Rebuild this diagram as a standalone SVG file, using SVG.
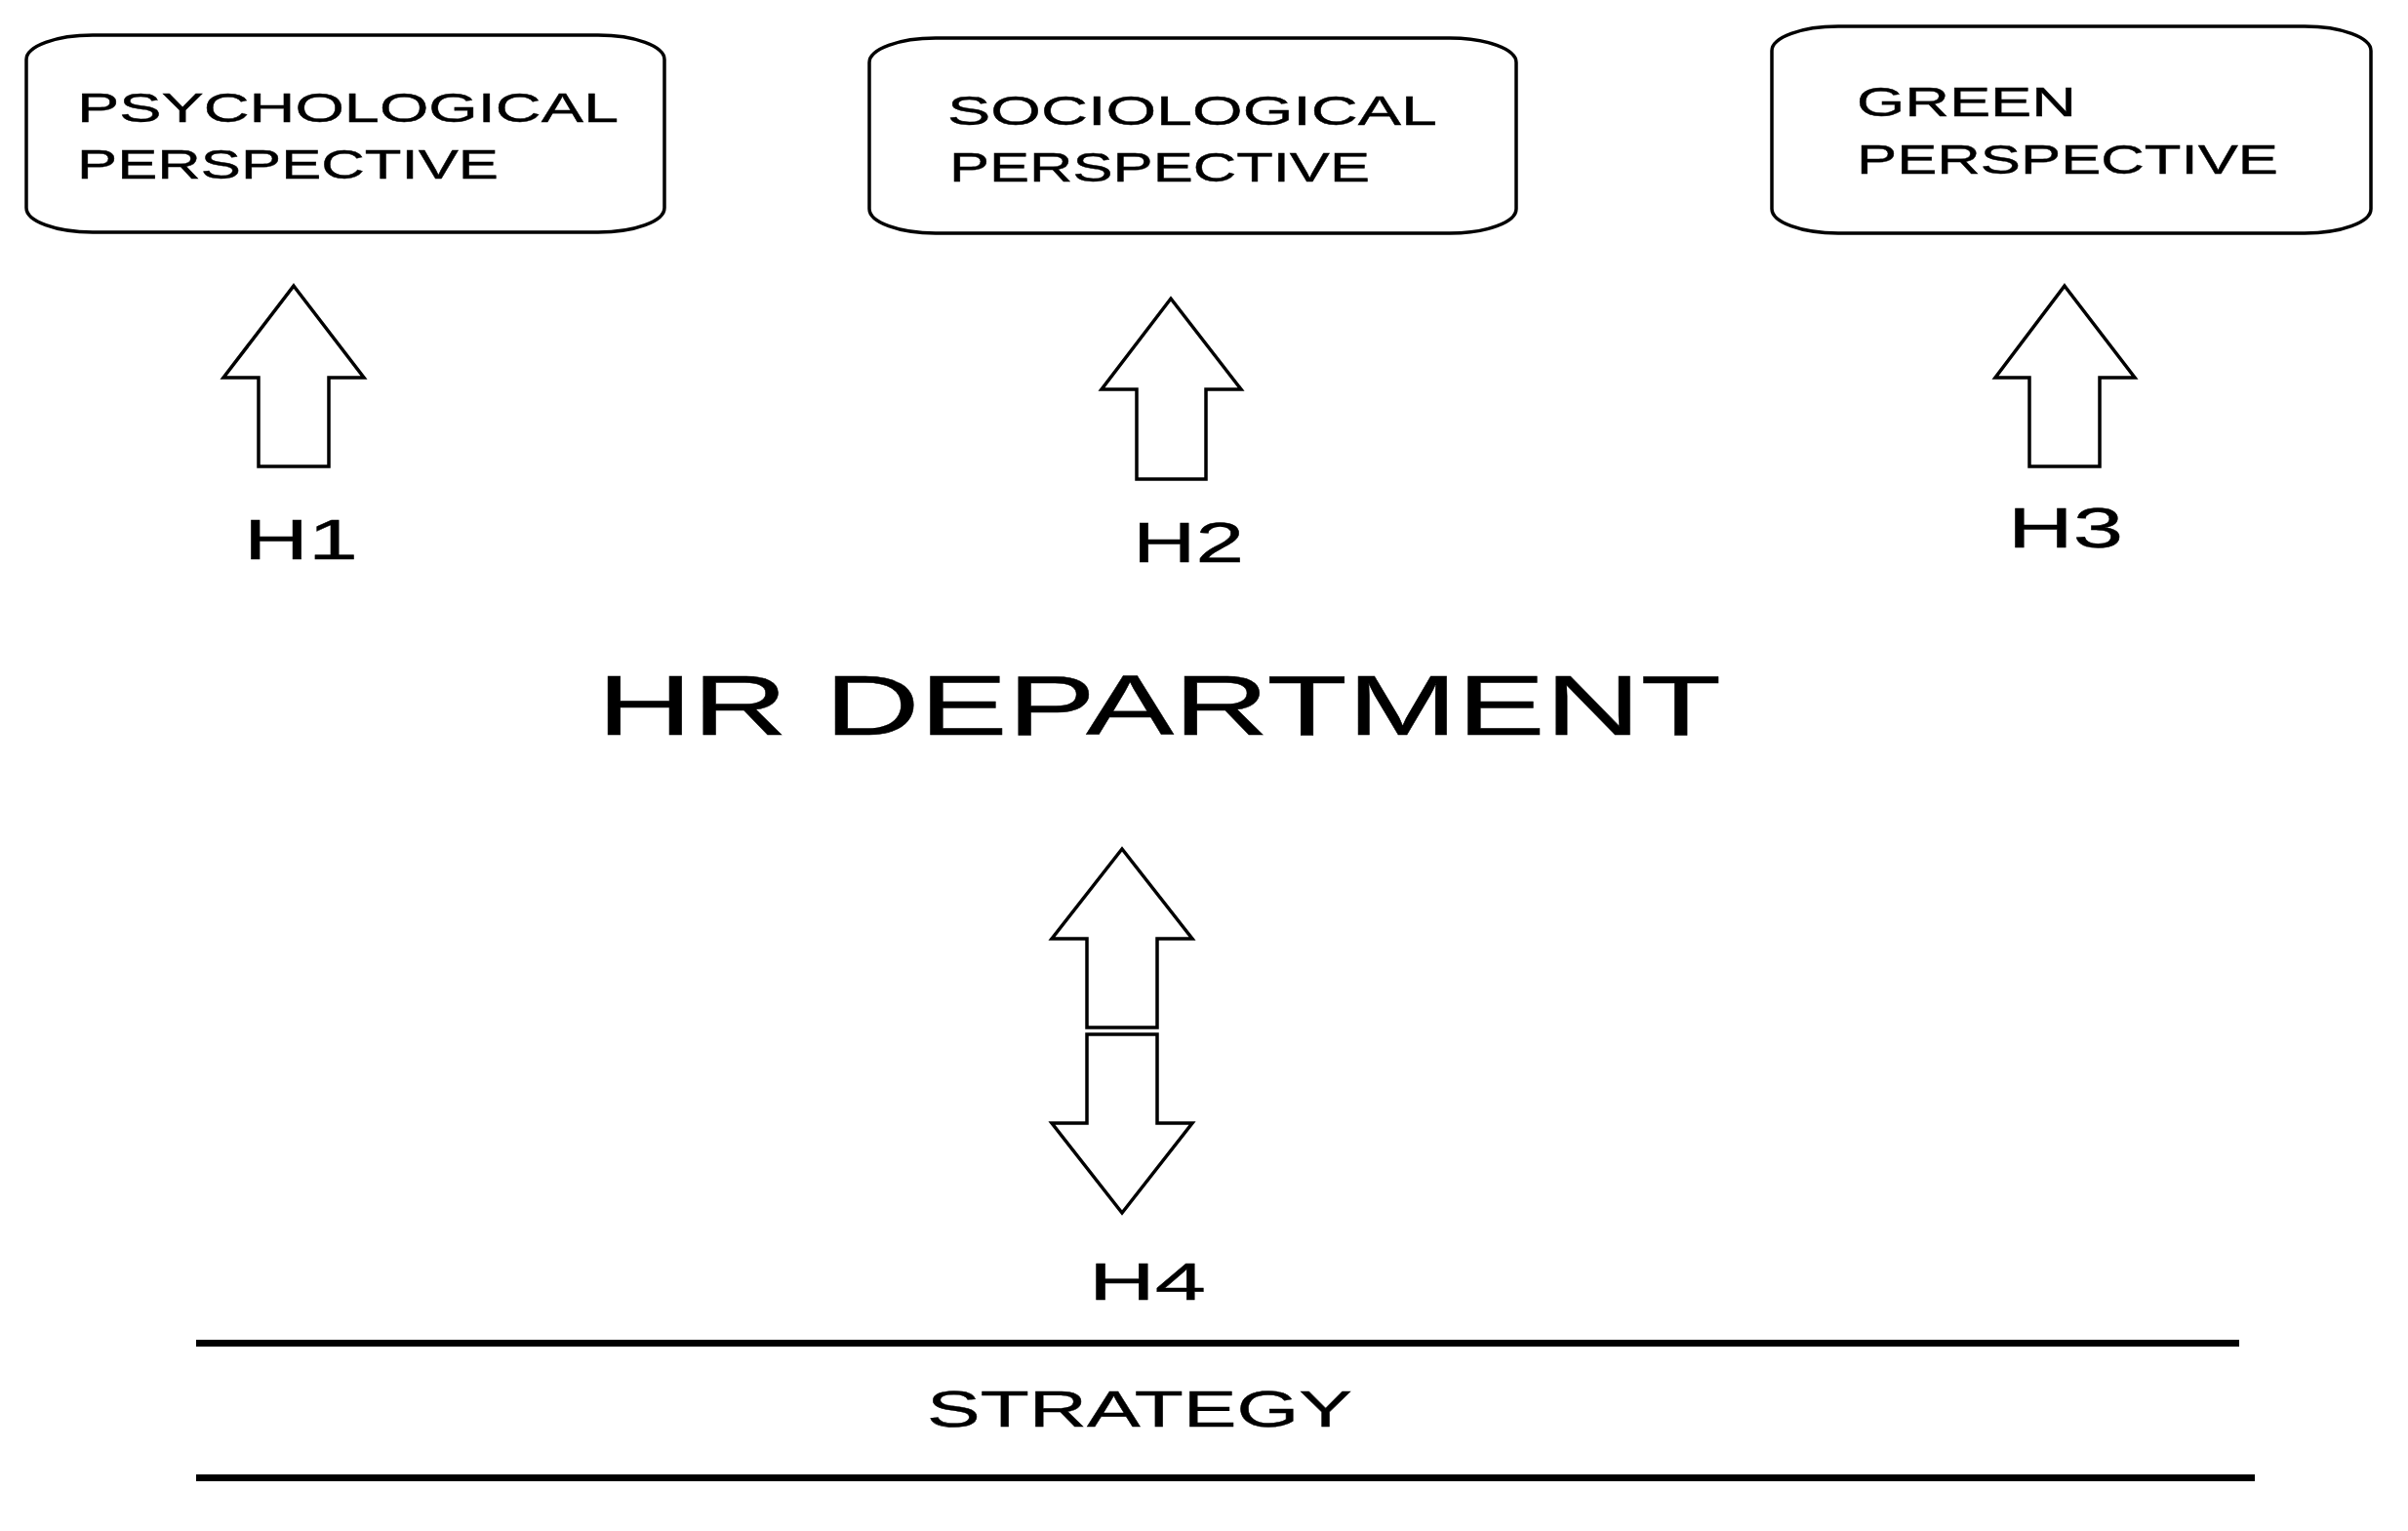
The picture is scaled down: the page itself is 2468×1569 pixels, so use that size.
<svg xmlns="http://www.w3.org/2000/svg" width="2468" height="1569" viewBox="0 0 2468 1569">
<style>
.box{fill:#fff;stroke:#000;stroke-width:3.5}
.arr{fill:#fff;stroke:#000;stroke-width:3.5;stroke-linejoin:miter}
.t{font-family:"Liberation Sans",Arial,sans-serif;fill:#000;stroke:#000;stroke-width:0.4}
.bt{font-size:42px}
.h{font-size:57px}
.line{stroke:#000;stroke-width:7}
</style>
<rect width="2468" height="1569" fill="#fff"/>
<g id="psychological">
<rect class="box" x="27" y="36" width="654" height="202" rx="68" ry="25"/>
<text class="t bt" x="79" y="125" textLength="555" lengthAdjust="spacingAndGlyphs">PSYCHOLOGICAL</text>
<text class="t bt" x="79" y="183" textLength="432" lengthAdjust="spacingAndGlyphs">PERSPECTIVE</text>
</g>
<g id="sociological">
<rect class="box" x="891" y="39" width="663" height="200" rx="68" ry="25"/>
<text class="t bt" x="971" y="128" textLength="502" lengthAdjust="spacingAndGlyphs">SOCIOLOGICAL</text>
<text class="t bt" x="973" y="186" textLength="431" lengthAdjust="spacingAndGlyphs">PERSPECTIVE</text>
</g>
<g id="green">
<rect class="box" x="1816" y="27" width="614" height="212" rx="68" ry="25"/>
<text class="t bt" x="1903" y="119" textLength="225" lengthAdjust="spacingAndGlyphs">GREEN</text>
<text class="t bt" x="1903" y="178" textLength="432" lengthAdjust="spacingAndGlyphs">PERSPECTIVE</text>
</g>
<g id="hr-department">
<text class="t" x="612" y="753" font-size="88" stroke-width="1.8" textLength="1152" lengthAdjust="spacingAndGlyphs">HR DEPARTMENT</text>
</g>
<g id="strategy">
<line class="line" x1="201" y1="1376.5" x2="2295" y2="1376.5"/>
<text class="t" x="950" y="1462" font-size="52" textLength="436" lengthAdjust="spacingAndGlyphs">STRATEGY</text>
<line class="line" x1="201" y1="1514.5" x2="2311" y2="1514.5"/>
</g>
<g id="connectors">
<g id="h1">
<polygon class="arr" points="301,293 373,387 337,387 337,478 265,478 265,387 229,387"/>
<text class="t h" x="250" y="573" textLength="117" lengthAdjust="spacingAndGlyphs">H1</text>
</g>
<g id="h2">
<polygon class="arr" points="1200,306 1272,399 1236,399 1236,491 1165,491 1165,399 1129,399"/>
<text class="t h" x="1161" y="576" textLength="114" lengthAdjust="spacingAndGlyphs">H2</text>
</g>
<g id="h3">
<polygon class="arr" points="2116,293 2188,387 2152,387 2152,478 2080,478 2080,387 2045,387"/>
<text class="t h" x="2058" y="561" textLength="118" lengthAdjust="spacingAndGlyphs">H3</text>
</g>
<g id="h4">
<polygon class="arr" points="1150,870 1222,962 1186,962 1186,1053 1114,1053 1114,962 1078,962"/>
<polygon class="arr" points="1150,1243 1222,1151 1186,1151 1186,1060 1114,1060 1114,1151 1078,1151"/>
<text class="t" x="1116" y="1332" font-size="54" textLength="120" lengthAdjust="spacingAndGlyphs">H4</text>
</g>
</g>
</svg>
